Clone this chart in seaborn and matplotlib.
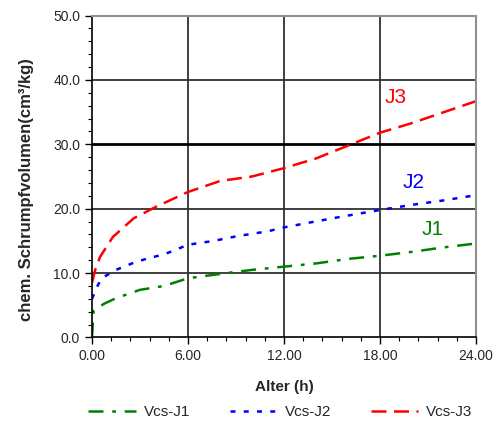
import matplotlib
matplotlib.use("Agg")
import matplotlib.pyplot as plt
from matplotlib.ticker import MultipleLocator
import seaborn as sns

# Alter (h) vs. chem. Schrumpfvolumen (cm3/kg)
h_j1 = [0.0, 0.1, 0.4, 0.8, 1.5, 3.0, 4.5, 6.0, 8.4, 10.0, 12.0, 14.0, 16.0, 18.0, 20.0, 22.0, 24.0]
v_j1 = [0.0, 4.2, 4.7, 5.3, 6.1, 7.4, 8.0, 9.2, 10.0, 10.5, 11.0, 11.5, 12.2, 12.7, 13.3, 14.0, 14.6]

h_j2 = [0.0, 0.3, 0.6, 1.5, 2.6, 3.5, 4.5, 6.0, 7.6, 9.0, 11.0, 12.0, 15.0, 18.0, 20.0, 22.0, 24.0]
v_j2 = [6.0, 7.8, 9.2, 10.5, 11.6, 12.3, 12.9, 14.4, 15.0, 15.7, 16.5, 17.1, 18.5, 19.8, 20.6, 21.3, 22.1]

h_j3 = [0.0, 0.2, 0.5, 1.3, 2.6, 4.0, 6.0, 8.0, 10.0, 12.0, 14.0, 16.0, 18.0, 20.0, 22.0, 24.0]
v_j3 = [8.5, 10.5, 12.5, 15.6, 18.5, 20.3, 22.6, 24.3, 25.0, 26.3, 27.8, 29.8, 31.8, 33.3, 35.0, 36.7]

series = [
    ("Vcs-J1", "J1", h_j1, v_j1, "#008000", (0, (6, 3.5, 1.5, 3.5))),
    ("Vcs-J2", "J2", h_j2, v_j2, "#0000ff", (0, (2, 3.3))),
    ("Vcs-J3", "J3", h_j3, v_j3, "#ff0000", (0, (6, 3))),
]
label_pos = {"J1": (21.3, 16.7), "J2": (20.1, 24.0), "J3": (19.0, 37.3)}

sns.set_style("white")
plt.rcParams["font.family"] = ["Liberation Sans", "DejaVu Sans"]

fig = plt.figure(figsize=(4.96, 4.25), dpi=100)
ax = fig.add_axes([0.1855, 0.2059, 0.7742, 0.7576])

handles = []
for name, short, hx, vy, col, ls in series:
    sns.lineplot(x=hx, y=vy, ax=ax, color=col, linestyle=ls, linewidth=1.8,
                 estimator=None, sort=True, label=name, legend=False)
    handles.append(ax.lines[-1])
    tx, ty = label_pos[short]
    ax.text(tx, ty, short, color=col, fontsize=15, ha="center", va="center")

ax.set_xlim(0, 24)
ax.set_ylim(0, 50)
ax.xaxis.set_major_locator(MultipleLocator(6))
ax.xaxis.set_minor_locator(MultipleLocator(1.2))
ax.yaxis.set_major_locator(MultipleLocator(10))
ax.yaxis.set_minor_locator(MultipleLocator(2))
ax.set_xticklabels([f"{t:.2f}" for t in ax.get_xticks()])
ax.set_yticklabels([f"{t:.1f}" for t in ax.get_yticks()])

for t in [6, 12, 18]:
    ax.axvline(t, color="#303030", lw=1.3, zorder=0)
for t in [10, 20, 40]:
    ax.axhline(t, color="#303030", lw=1.3, zorder=0)
ax.axhline(30, color="black", lw=2.0, zorder=0)

for s in ["left", "bottom"]:
    ax.spines[s].set_color("black")
    ax.spines[s].set_linewidth(1.2)
ax.spines["top"].set_color("#909090")
ax.spines["top"].set_linewidth(1.5)
ax.spines["right"].set_color("#909090")
ax.spines["right"].set_linewidth(1.5)

ax.tick_params(axis="both", which="major", direction="out", length=5, width=1,
               color="black", labelsize=10, left=True, bottom=True)
ax.tick_params(axis="both", which="minor", direction="out", length=3, width=0.8,
               color="black", left=True, bottom=True)

ax.set_xlabel("Alter (h)", fontsize=11, fontweight="bold", labelpad=12)
ax.set_ylabel("chem. Schrumpfvolumen(cm³/kg)", fontsize=12, fontweight="bold")
ax.yaxis.set_label_coords(-0.15, 0.46)

fig.legend(handles=handles, labels=[s[0] for s in series], loc="lower center",
           bbox_to_anchor=(0.565, -0.018), ncol=3, frameon=False, fontsize=11,
           handlelength=3.1, columnspacing=2.6, handletextpad=0.5)

fig.savefig("out.png", dpi=100)
